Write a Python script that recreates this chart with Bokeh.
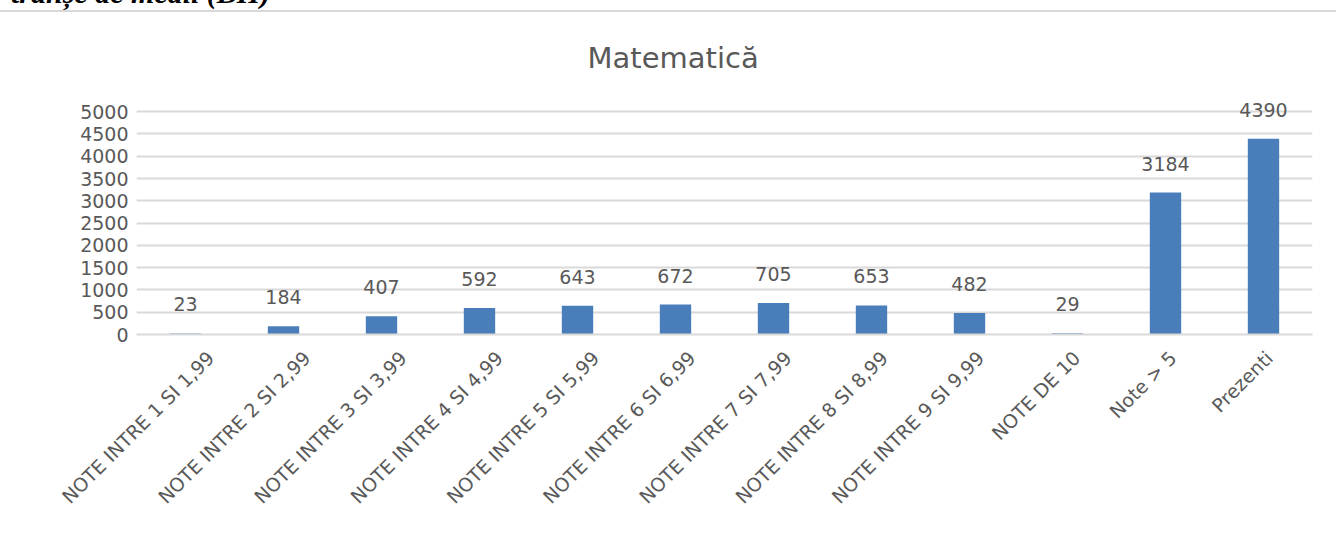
from bokeh.plotting import figure
from bokeh.models import FixedTicker, Div, ColumnDataSource, LinearAxis, Range1d
from bokeh.layouts import column
from bokeh.embed import file_html
from bokeh.resources import INLINE
from bokeh.core.properties import value
import math

categories = ["NOTE INTRE 1 SI 1,99", "NOTE INTRE 2 SI 2,99", "NOTE INTRE 3 SI 3,99",
              "NOTE INTRE 4 SI 4,99", "NOTE INTRE 5 SI 5,99", "NOTE INTRE 6 SI 6,99",
              "NOTE INTRE 7 SI 7,99", "NOTE INTRE 8 SI 8,99", "NOTE INTRE 9 SI 9,99",
              "NOTE DE 10", "Note > 5", "Prezenti"]
counts = [23, 184, 407, 592, 643, 672, 705, 653, 482, 29, 3184, 4390]
y_ticks = [0, 500, 1000, 1500, 2000, 2500, 3000, 3500, 4000, 4500, 5000]
title_text = "Matematică"
heading_text = "tranșe de medii (BII)"

FONT = "DejaVu Sans"
GRAY = "#595959"
GRID = "#D9D9D9"
BAR = "#4A7EBB"

# category slots: each category occupies one unit, its centre at index + 0.5
slot = [i + 0.5 for i in range(len(categories))]
src = ColumnDataSource(dict(x=slot, cat=categories, val=counts, lbl=[str(v) for v in counts]))

p = figure(x_range=Range1d(0, len(categories)), y_range=(0, 5250),
           width=1336, height=522, output_backend="svg", toolbar_location=None,
           min_border_left=136, min_border_right=24, min_border_top=88, min_border_bottom=200)
p.styles = {"box-shadow": "-2px 0 0 0 #d9d9d9, 0 -2px 0 0 #d9d9d9"}
p.outline_line_color = None
p.background_fill_color = "white"
p.border_fill_color = "white"

p.title.text = title_text
p.title.align = "left"
p.title.offset = 451
p.title.standoff = 52
p.title.text_font = FONT
p.title.text_font_size = "29px"
p.title.text_font_style = "normal"
p.title.text_color = GRAY

p.vbar(x="x", top="val", width=0.32, source=src, fill_color=BAR, line_color=None)
p.text(x="x", y="val", text="lbl", source=src, text_align="center",
       text_baseline="alphabetic", y_offset=-29, text_font=value(FONT),
       text_font_size="19px", text_color=GRAY)

p.xgrid.grid_line_color = None
p.ygrid.grid_line_color = GRID
p.ygrid.grid_line_width = 2
p.yaxis.ticker = FixedTicker(ticks=y_ticks)
p.yaxis.axis_line_color = None
p.yaxis.major_tick_line_color = None
p.yaxis.minor_tick_line_color = None
p.yaxis.major_label_text_font = FONT
p.yaxis.major_label_text_font_size = "19px"
p.yaxis.major_label_text_color = GRAY
p.yaxis.major_label_standoff = 2

base_axis = p.xaxis[0]
base_axis.ticker = FixedTicker(ticks=[])
base_axis.axis_line_color = GRID
base_axis.axis_line_width = 2
base_axis.major_tick_line_color = None
base_axis.minor_tick_line_color = None
base_axis.major_label_text_font_size = "0px"
base_axis.major_label_standoff = 0
base_axis.major_tick_out = 0
base_axis.major_tick_in = 0

# slanted category labels on a companion axis, spaced slightly tighter like the original
p.extra_x_ranges = {"labels": Range1d(-0.27, 11.95)}
lab_axis = LinearAxis(x_range_name="labels", ticker=FixedTicker(ticks=slot),
                      major_label_overrides={pos: c for pos, c in zip(slot, categories)})
lab_axis.axis_line_color = None
lab_axis.major_tick_line_color = None
lab_axis.minor_tick_line_color = None
lab_axis.major_tick_out = 0
lab_axis.major_label_orientation = math.pi / 4
lab_axis.major_label_text_font = FONT
lab_axis.major_label_text_font_size = "19px"
lab_axis.major_label_text_color = GRAY
lab_axis.major_label_standoff = 20
p.add_layout(lab_axis, "below")

heading = Div(text='<div style="position:relative;top:-33px;left:6px;font-family:\'Liberation Serif\';'
                   'font-style:italic;font-weight:bold;font-size:30px;white-space:nowrap;color:#000">'
                   + heading_text + '</div>',
              width=400, height=2, styles={"overflow": "visible"})

layout = column(heading, p)
open("out.html", "w").write(file_html(layout, INLINE))
